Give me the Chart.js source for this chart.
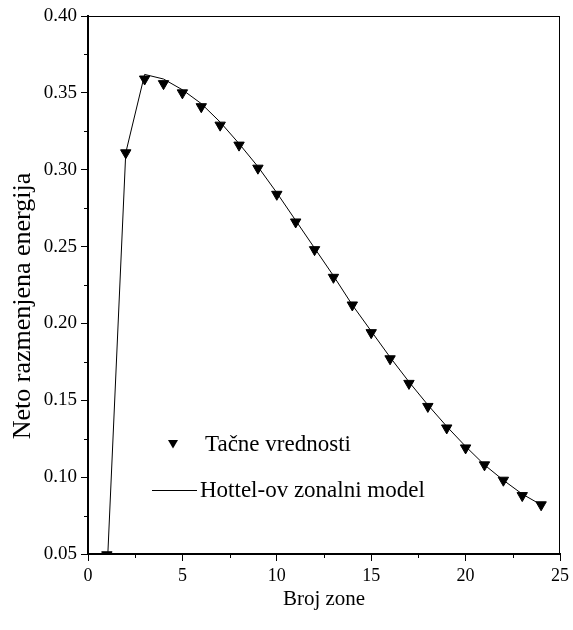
<!DOCTYPE html>
<html lang="sr">
<head>
  <meta charset="UTF-8" />
  <title>Neto razmenjena energija</title>
  <script src="https://cdn.jsdelivr.net/npm/chart.js"></script>
  <style>
    html, body { margin: 0; padding: 0; background: #fff; }
    #wrap { width: 573px; height: 630px; position: relative; }
  </style>
</head>
<body>
  <div id="wrap"><canvas id="chart"></canvas></div>

  <script>
    // data
    const zones = [1, 2, 3, 4, 5, 6, 7, 8, 9, 10, 11, 12, 13, 14, 15, 16, 17, 18, 19, 20, 21, 22, 23, 24];
    const exactValues = [0.0495, 0.311, 0.359, 0.356, 0.350, 0.341, 0.329, 0.316, 0.301, 0.284, 0.266, 0.248,
                         0.230, 0.212, 0.194, 0.177, 0.161, 0.146, 0.132, 0.119, 0.108, 0.098, 0.088, 0.082];
    const modelValues = [0.036, 0.311, 0.362, 0.359, 0.352, 0.343, 0.331, 0.317, 0.302, 0.285, 0.267, 0.249,
                         0.231, 0.212, 0.195, 0.178, 0.162, 0.147, 0.133, 0.120, 0.108, 0.098, 0.089, 0.082];
    const xRange = [0, 25];
    const yRange = [0.05, 0.40];
    const xMajor = 5, yMajor = 0.05;

    const seriesLabels = ['Tačne vrednosti', 'Hottel-ov zonalni model'];
    const xTitle = 'Broj zone';
    const yTitle = 'Neto razmenjena energija';

    const FONT = '"Liberation Serif", "Times New Roman", serif';
    Chart.defaults.font.family = FONT;
    Chart.defaults.color = '#000';

    // frame, minor ticks, y title and the legend inside the plot
    const extras = {
      id: 'extras',
      afterDraw(chart) {
        const { ctx, chartArea: a, scales: { x, y } } = chart;
        ctx.save();
        ctx.strokeStyle = '#000';
        ctx.lineWidth = 1;
        ctx.beginPath();
        ctx.moveTo(a.left, a.top + 0.5); ctx.lineTo(a.right, a.top + 0.5);
        ctx.moveTo(a.right - 0.5, a.top); ctx.lineTo(a.right - 0.5, a.bottom);
        // minor ticks
        for (let v = xRange[0] + xMajor / 2; v < xRange[1]; v += xMajor) {
          const px = Math.round(x.getPixelForValue(v)) + 0.5;
          ctx.moveTo(px, a.bottom); ctx.lineTo(px, a.bottom + 4);
        }
        for (let v = yRange[0] + yMajor / 2; v < yRange[1]; v += yMajor) {
          const py = Math.round(y.getPixelForValue(v)) + 0.5;
          ctx.moveTo(a.left, py); ctx.lineTo(a.left - 4, py);
        }
        ctx.stroke();

        // y title
        ctx.fillStyle = '#000';
        ctx.font = '26px ' + FONT;
        ctx.textAlign = 'center';
        ctx.textBaseline = 'middle';
        ctx.translate(23, 306);
        ctx.rotate(-Math.PI / 2);
        ctx.fillText(yTitle, 0, 0);
        ctx.restore();

        // legend
        ctx.save();
        ctx.fillStyle = '#000';
        ctx.strokeStyle = '#000';
        const mx = 173, my = 444, r = 5;
        ctx.beginPath();
        ctx.moveTo(mx - r, my - r * 0.8);
        ctx.lineTo(mx + r, my - r * 0.8);
        ctx.lineTo(mx, my + r * 0.9);
        ctx.closePath();
        ctx.fill();
        ctx.lineWidth = 1;
        ctx.beginPath();
        ctx.moveTo(152, 490.5); ctx.lineTo(197, 490.5);
        ctx.stroke();
        ctx.font = '23px ' + FONT;
        ctx.textAlign = 'left';
        ctx.textBaseline = 'alphabetic';
        ctx.fillText(seriesLabels[0], 205, 451);
        ctx.fillText(seriesLabels[1], 200, 497);
        ctx.restore();
      }
    };

    new Chart(document.getElementById('chart'), {
      type: 'line',
      data: {
        datasets: [
          {
            label: seriesLabels[1],
            data: zones.map((z, i) => ({ x: z, y: modelValues[i] })),
            borderColor: '#000',
            borderWidth: 1,
            pointRadius: 0,
            fill: false,
            tension: 0,
            clip: 0
          },
          {
            label: seriesLabels[0],
            data: zones.map((z, i) => ({ x: z, y: exactValues[i] })),
            showLine: false,
            pointStyle: 'triangle',
            rotation: 180,
            pointRadius: 6,
            pointBorderWidth: 1,
            pointBackgroundColor: '#000',
            pointBorderColor: '#000',
            clip: 0
          }
        ]
      },
      options: {
        responsive: true,
        maintainAspectRatio: false,
        animation: false,
        events: [],
        layout: { padding: { top: 16, right: 11, left: 0, bottom: 0 } },
        plugins: { legend: { display: false }, tooltip: { enabled: false } },
        scales: {
          x: {
            type: 'linear',
            min: xRange[0], max: xRange[1],
            afterFit: s => { s.height = 76; },
            border: { color: '#000', width: 2 },
            grid: { drawOnChartArea: false, color: '#000', tickLength: 7, lineWidth: 1 },
            ticks: { stepSize: xMajor, color: '#000', font: { family: FONT, size: 18 }, padding: 4, maxRotation: 0 },
            title: { display: true, text: xTitle, color: '#000', font: { family: FONT, size: 21 }, padding: { top: 0, bottom: 18 } }
          },
          y: {
            type: 'linear',
            min: yRange[0], max: yRange[1],
            afterFit: s => { s.width = 88; },
            border: { color: '#000', width: 2 },
            grid: { drawOnChartArea: false, color: '#000', tickLength: 7, lineWidth: 1 },
            ticks: { stepSize: yMajor, color: '#000', font: { family: FONT, size: 19 }, padding: 4,
                     callback: v => v.toFixed(2) }
          }
        }
      },
      plugins: [extras]
    });
  </script>
</body>
</html>
